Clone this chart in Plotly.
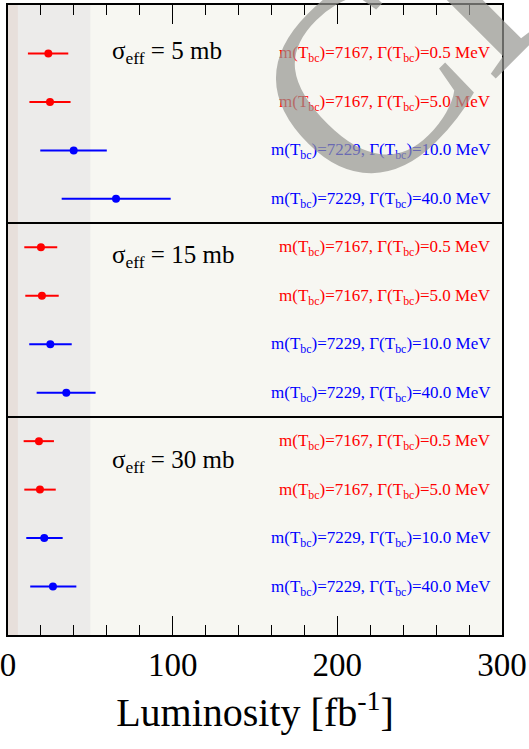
import plotly.graph_objects as go

# ---- data ----
panel_labels = ["σ<sub>eff</sub> = 5 mb", "σ<sub>eff</sub> = 15 mb", "σ<sub>eff</sub> = 30 mb"]
scenario_labels = [
    "m(T<sub>bc</sub>)=7167, Γ(T<sub>bc</sub>)=0.5 MeV",
    "m(T<sub>bc</sub>)=7167, Γ(T<sub>bc</sub>)=5.0 MeV",
    "m(T<sub>bc</sub>)=7229, Γ(T<sub>bc</sub>)=10.0 MeV",
    "m(T<sub>bc</sub>)=7229, Γ(T<sub>bc</sub>)=40.0 MeV",
]
scenario_colors = ["#ff0000", "#ff0000", "#0000ff", "#0000ff"]

# central luminosity, lower and upper bounds [fb^-1] per panel (5, 15, 30 mb)
lumi_5mb = [24.5, 25.5, 39.9, 65.6]
low_5mb = [12.1, 13.0, 19.6, 32.6]
high_5mb = [36.6, 38.0, 60.0, 98.8]

lumi_15mb = [20.0, 20.6, 25.7, 35.4]
low_15mb = [9.9, 10.5, 12.9, 17.4]
high_15mb = [29.9, 30.8, 38.7, 53.2]

lumi_30mb = [18.8, 19.4, 22.0, 27.3]
low_30mb = [9.5, 9.9, 11.1, 13.5]
high_30mb = [27.9, 29.0, 33.2, 41.5]

band_grey = [0, 50]
band_pink = [0, 6]

x_ticks = [0, 100, 200, 300]

panels = [
    (lumi_5mb, low_5mb, high_5mb),
    (lumi_15mb, low_15mb, high_15mb),
    (lumi_30mb, low_30mb, high_30mb),
]

fig = go.Figure()

for p, (c, lo, hi) in enumerate(panels):
    for i in range(4):
        ypos = p * 4 + i + 1
        fig.add_trace(go.Scatter(
            x=[c[i]], y=[ypos], mode="markers",
            marker=dict(color=scenario_colors[i], size=8),
            error_x=dict(type="data", symmetric=False,
                         array=[hi[i] - c[i]], arrayminus=[c[i] - lo[i]],
                         color=scenario_colors[i], thickness=2, width=0),
            showlegend=False, hoverinfo="skip",
        ))
        fig.add_annotation(
            x=0.982, xref="paper", y=ypos + 0.02, yref="y",
            text=scenario_labels[i], showarrow=False, xanchor="right", yanchor="middle",
            font=dict(family="Liberation Serif", size=17, color=scenario_colors[i]),
        )

label_y = [0.98, 5.18, 9.42]
for p in range(3):
    fig.add_annotation(
        x=62, xref="x", y=label_y[p], yref="y",
        text=panel_labels[p], showarrow=False, xanchor="left", yanchor="middle",
        font=dict(family="Liberation Serif", size=25, color="black"),
    )

# shaded bands
fig.add_shape(type="rect", xref="x", yref="paper", x0=band_grey[0], x1=band_grey[1], y0=0, y1=1,
              fillcolor="#ecebea", line=dict(width=0), layer="below")
fig.add_shape(type="rect", xref="x", yref="paper", x0=band_pink[0], x1=band_pink[1], y0=0, y1=1,
              fillcolor="#e7dfdb", line=dict(width=0), layer="below")

# panel dividers
for yd in [4.5, 8.5]:
    fig.add_shape(type="line", xref="paper", yref="y", x0=0, x1=1, y0=yd, y1=yd,
                  line=dict(color="black", width=2))

# watermark
fig.add_annotation(
    x=0.95, xref="paper", y=1.06, yref="paper", text="CPC", showarrow=False,
    xanchor="center", yanchor="middle",
    textangle=-45, font=dict(family="Liberation Serif", size=270, color="rgba(150,150,145,0.7)"),
)

fig.update_xaxes(
    range=[0, 300], tickvals=x_ticks, ticks="inside", ticklen=19, tickwidth=1, tickcolor="black",
    minor=dict(dtick=20, ticks="inside", ticklen=10, tickcolor="black", tickwidth=1),
    mirror="allticks", showline=True, linecolor="black", linewidth=1.5,
    showgrid=False, zeroline=False, automargin=False, ticklabeloverflow="allow",
    tickfont=dict(family="Liberation Serif", size=33, color="black"),
    title=dict(text="Luminosity [fb<sup>-1</sup>]", standoff=16,
               font=dict(family="Liberation Serif", size=40, color="black")),
)
fig.update_yaxes(
    range=[13, 0], showticklabels=False, ticks="", showline=True, mirror=True,
    linecolor="black", linewidth=1.5, showgrid=False, zeroline=False, automargin=False,
)

fig.update_layout(
    width=529, height=749,
    margin=dict(l=8, r=27, t=5, b=114),
    plot_bgcolor="#f7f7f2", paper_bgcolor="white",
)

fig.write_html("out.html", config={"displayModeBar": False},
               post_script="document.body.style.margin='0';")
